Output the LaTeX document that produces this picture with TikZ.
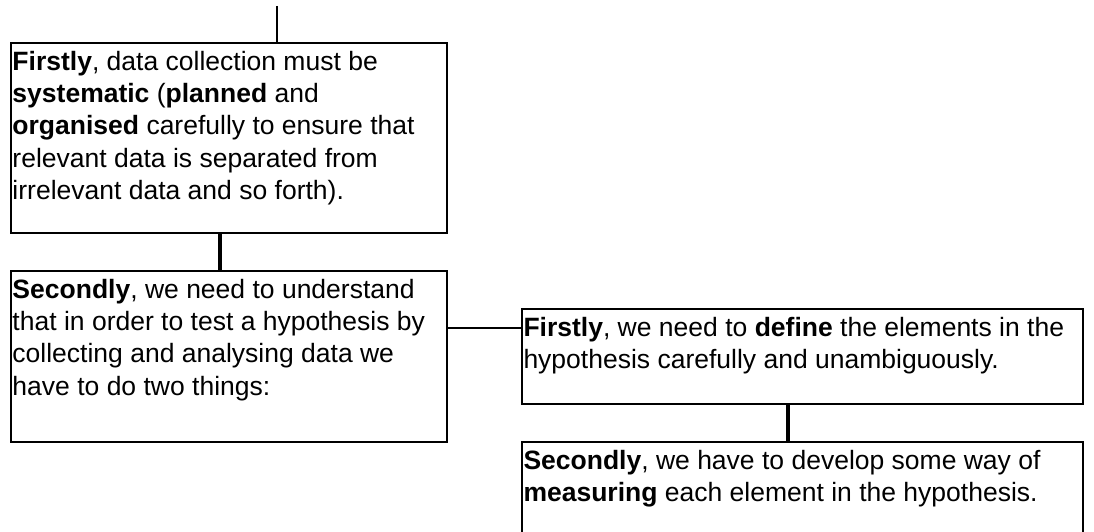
\documentclass[tikz,border=0pt]{standalone}
\usepackage{fontspec}
\setmainfont{Liberation Sans}

% Text block of a box: fixed width and height, text set from the top
\newcommand{\boxtext}[3]{%
  \parbox[c][#2pt][t]{#1pt}{\fontsize{26.5}{32.3}\selectfont\raggedright
    \vspace*{8pt}#3}}

\tikzset{
  box/.style={draw=black, line width=2pt, fill=white, anchor=north west,
              inner xsep=1.5pt, inner ysep=0pt, outer sep=0pt},
  thinlink/.style={draw=black, line width=1.8pt},
  thicklink/.style={draw=black, line width=4.2pt},
}

\begin{document}
\begin{tikzpicture}[x=1pt, y=-1pt]
  \useasboundingbox (0,0) rectangle (1094,532);
  \clip (0,0) rectangle (1094,532);

  % Boxes
  \node[box] (b1) at (11,43) {\boxtext{433}{190}{%
    \textbf{Firstly}, data collection must be\\
    \textbf{systematic} (\textbf{planned} and\\
    \textbf{organised} carefully to ensure that\\
    relevant data is separated from\\
    irrelevant data and so forth).}};

  \node[box] (b2) at (11,271) {\boxtext{433}{171}{%
    \textbf{Secondly}, we need to understand\\
    that in order to test a hypothesis by\\
    collecting and analysing data we\\
    have to do two things:}};

  \node[box] (b3) at (522,309) {\boxtext{558}{95}{%
    \textbf{Firstly}, we need to \textbf{define} the elements in the\\
    hypothesis carefully and unambiguously.}};

  \node[box] (b4) at (522,442) {\boxtext{558}{130}{%
    \textbf{Secondly}, we have to develop some way of\\
    \textbf{measuring} each element in the hypothesis.}};

  % Connectors
  \coordinate (top) at (277,6);
  \draw[thinlink] (top) -- (top |- b1.north);

  \draw[thicklink] ([xshift=-9pt]b1.south) -- ([xshift=-9pt]b1.south |- b2.north);

  \coordinate (split) at ([yshift=-57pt]b2.north east);
  \draw[thinlink] (split) -- (split -| b3.west);

  \draw[thicklink] ([xshift=-14.5pt]b3.south) -- ([xshift=-14.5pt]b3.south |- b4.north);
\end{tikzpicture}
\end{document}
